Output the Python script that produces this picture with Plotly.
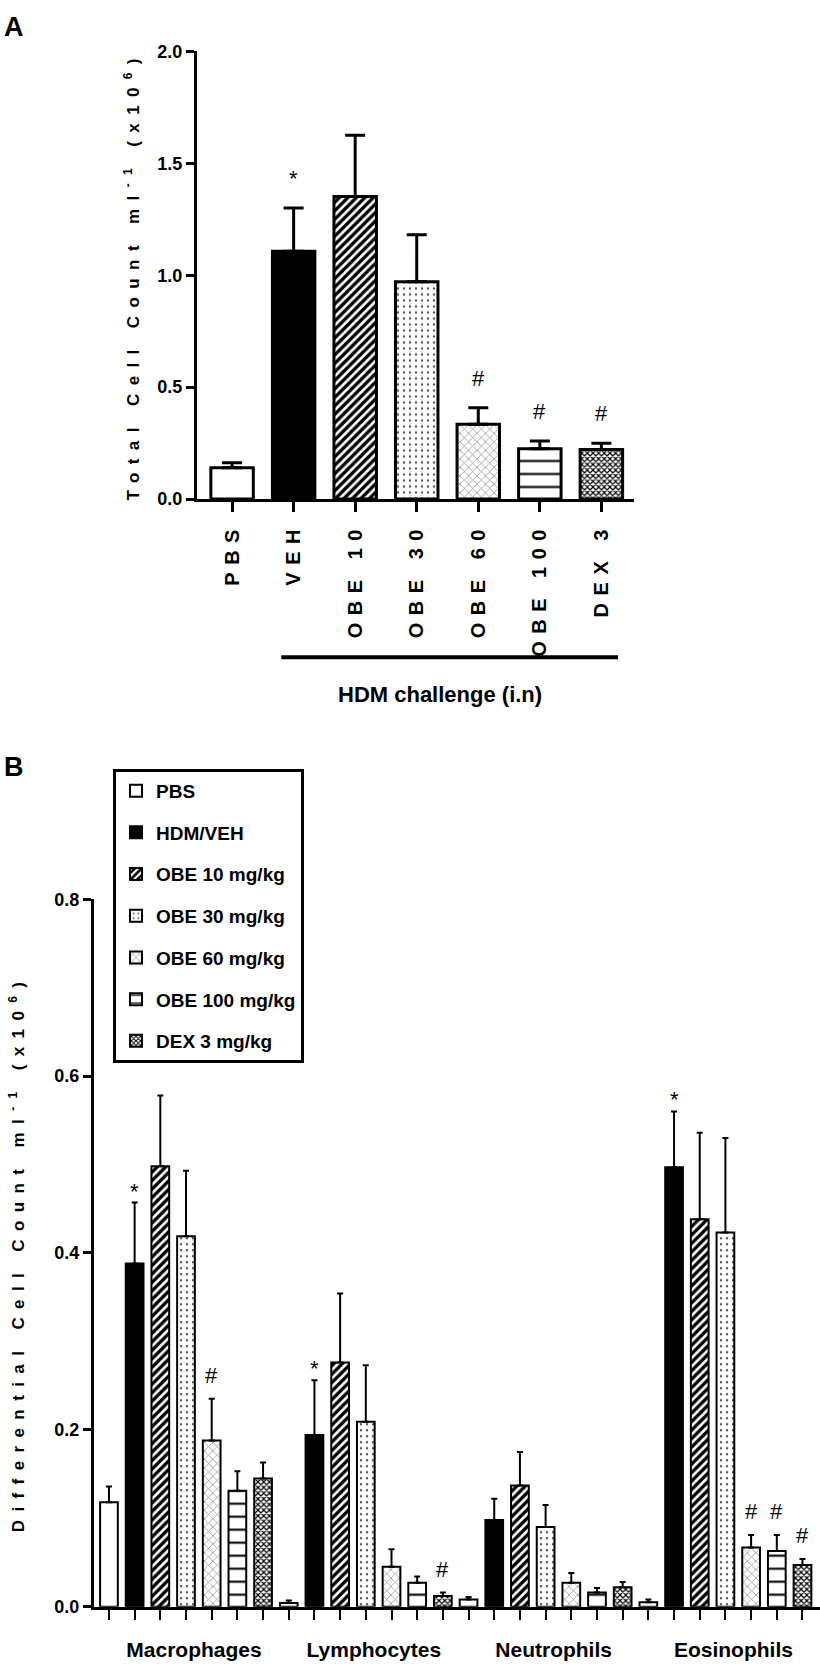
import plotly.graph_objects as go

# ---------------- Panel A data ----------------
groups_a = ["PBS", "VEH", "OBE 10", "OBE 30", "OBE 60", "OBE 100", "DEX 3"]
total_mean = [0.140, 1.107, 1.352, 0.971, 0.334, 0.225, 0.221]
total_sem = [0.022, 0.194, 0.274, 0.210, 0.074, 0.035, 0.029]
total_sig = ["", "*", "", "", "#", "#", "#"]

# ---------------- Panel B data ----------------
cell_types = ["Macrophages", "Lymphocytes", "Neutrophils", "Eosinophils"]
treatments = ["PBS", "HDM/VEH", "OBE 10 mg/kg", "OBE 30 mg/kg",
              "OBE 60 mg/kg", "OBE 100 mg/kg", "DEX 3 mg/kg"]

pbs_mean = [0.118, 0.004, 0.008, 0.005]
pbs_sem = [0.018, 0.003, 0.003, 0.003]
veh_mean = [0.388, 0.194, 0.098, 0.497]
veh_sem = [0.069, 0.062, 0.024, 0.063]
obe10_mean = [0.498, 0.276, 0.137, 0.438]
obe10_sem = [0.080, 0.078, 0.038, 0.098]
obe30_mean = [0.419, 0.209, 0.090, 0.423]
obe30_sem = [0.074, 0.064, 0.025, 0.107]
obe60_mean = [0.188, 0.045, 0.027, 0.067]
obe60_sem = [0.047, 0.020, 0.011, 0.014]
obe100_mean = [0.131, 0.027, 0.016, 0.063]
obe100_sem = [0.022, 0.007, 0.005, 0.018]
dex_mean = [0.145, 0.012, 0.022, 0.047]
dex_sem = [0.018, 0.004, 0.006, 0.007]

veh_sig = ["*", "*", "", "*"]
obe60_sig = ["#", "", "", "#"]
obe100_sig = ["", "", "", "#"]
dex_sig = ["", "#", "", "#"]
none_sig = ["", "", "", ""]

diff_means = [pbs_mean, veh_mean, obe10_mean, obe30_mean, obe60_mean, obe100_mean, dex_mean]
diff_sems = [pbs_sem, veh_sem, obe10_sem, obe30_sem, obe60_sem, obe100_sem, dex_sem]
diff_sigs = [none_sig, veh_sig, none_sig, none_sig, obe60_sig, obe100_sig, dex_sig]

# ---------------- styles ----------------
FONT = "Liberation Sans, Arial, Helvetica, sans-serif"
styles = [
    dict(bg="white", shape="", fg="black", size=8, sol=0.3),
    dict(bg="black", shape="", fg="black", size=8, sol=0.3),
    dict(bg="white", shape="/", fg="black", size=6, sol=0.55),
    dict(bg="white", shape=".", fg="#555555", size=6, sol=0.12),
    dict(bg="white", shape="x", fg="#9a9a9a", size=6, sol=0.25),
    dict(bg="white", shape="-", fg="black", size=13, sol=0.16),
    dict(bg="white", shape="x", fg="black", size=4, sol=0.5),
]

W, H = 820, 1670


def px_x(v):
    return v / W


def px_y(v):
    return 1 - v / H


def bar_marker(s, lw):
    m = dict(color=s["bg"], line=dict(color="black", width=lw))
    if s["shape"]:
        m["pattern"] = dict(shape=s["shape"], fgcolor=s["fg"], bgcolor=s["bg"],
                            size=s["size"], solidity=s["sol"], fillmode="replace")
    return m


fig = go.Figure()

# Panel A: one bar per group, all sharing the same slot offset
for i, g in enumerate(groups_a):
    fig.add_trace(go.Bar(
        x=[g], y=[total_mean[i]], offsetgroup="A",
        marker=bar_marker(styles[i], 3),
        error_y=dict(type="data", array=[total_sem[i]], arrayminus=[0],
                     symmetric=False, color="black", thickness=3, width=10),
        showlegend=False, xaxis="x", yaxis="y", name=g,
    ))

# Panel B
cat_pos = list(range(len(cell_types)))
for j, name in enumerate(treatments):
    fig.add_trace(go.Bar(
        x=cat_pos, y=diff_means[j], name=name, legendgroup=name,
        marker=bar_marker(styles[j], 2),
        error_y=dict(type="data", array=diff_sems[j], arrayminus=[0] * len(cell_types),
                     symmetric=False, color="black", thickness=2, width=3),
        xaxis="x2", yaxis="y2",
    ))

annotations = []
for i, m in enumerate(total_sig):
    if m:
        annotations.append(dict(
            x=groups_a[i], y=total_mean[i] + total_sem[i], xref="x", yref="y",
            text=m, showarrow=False, yanchor="bottom", yshift=15,
            font=dict(family=FONT, size=22, color="black")))

n_tr = len(treatments)
for j in range(n_tr):
    for g in range(len(cell_types)):
        m = diff_sigs[j][g]
        if m:
            annotations.append(dict(
                x=g + (j - (n_tr - 1) / 2) / n_tr,
                y=diff_means[j][g] + diff_sems[j][g], xref="x2", yref="y2",
                text=m, showarrow=False, yanchor="bottom",
                yshift=(9 if m == "#" else -3),
                font=dict(family=FONT, size=22, color="black")))

annotations += [
    dict(x=0.002, y=1.0, xref="paper", yref="paper", xanchor="left", yanchor="top",
         text="A", showarrow=False,
         font=dict(family=FONT, size=27, color="black", weight="bold")),
    dict(x=0.002, y=px_y(749), xref="paper", yref="paper", xanchor="left", yanchor="top",
         text="B", showarrow=False,
         font=dict(family=FONT, size=27, color="black", weight="bold")),
    dict(x=px_x(440), y=px_y(693), xref="paper", yref="paper", xanchor="center",
         yanchor="middle", text="HDM challenge (i.n)", showarrow=False,
         font=dict(family=FONT, size=22, color="black", weight="bold")),
]

axis_common = dict(showline=True, linecolor="black", showgrid=False, zeroline=False,
                   ticks="outside", tickcolor="black", mirror=False)

fig.update_layout(
    width=W, height=H,
    margin=dict(l=0, r=0, t=0, b=0),
    paper_bgcolor="white", plot_bgcolor="white",
    font=dict(family=FONT, color="black"),
    barmode="group", bargap=0.0, bargroupgap=0.31,
    xaxis=dict(axis_common, domain=[px_x(197), px_x(634)], anchor="y",
               type="category", range=[-0.57, 6.53], linewidth=3,
               ticklen=10, tickwidth=3, tickangle=-90, ticklabelstandoff=2,
               tickfont=dict(family=FONT, size=20, weight="bold")),
    yaxis=dict(axis_common, domain=[px_y(495), px_y(42)], anchor="x",
               range=[0, 2], tickvals=[0, 0.5, 1.0, 1.5, 2.0], tickformat=".1f",
               linewidth=3, ticklen=8, tickwidth=3,
               tickfont=dict(family=FONT, size=18, weight="bold"),
               title=dict(text="Total Cell Count ml<sup>-1</sup> (x10<sup>6</sup>)",
                          font=dict(family=FONT, size=17, weight="bold"), standoff=14)),
    xaxis2=dict(axis_common, domain=[px_x(94), 1.0], anchor="y2",
                range=[-0.5117, 3.526], tickvals=cat_pos, ticktext=cell_types,
                linewidth=3, ticklen=10, tickwidth=2, ticklabelstandoff=12,
                ticklabelshift=8,
                minor=dict(ticks="outside", tick0=-3 / 7, dtick=1 / 7, ticklen=10,
                           tickwidth=2, tickcolor="black"),
                tickfont=dict(family=FONT, size=21, weight="bold")),
    yaxis2=dict(axis_common, domain=[px_y(1616), px_y(900)], anchor="x2",
                range=[0, 0.8], dtick=0.2, tickformat=".1f",
                linewidth=3, ticklen=8, tickwidth=3,
                tickfont=dict(family=FONT, size=18, weight="bold"),
                title=dict(text="Differential Cell Count ml<sup>-1</sup> (x10<sup>6</sup>)",
                           font=dict(family=FONT, size=17, weight="bold"), standoff=26)),
    legend=dict(x=px_x(113), y=px_y(768), xanchor="left", yanchor="top",
                bordercolor="black", borderwidth=3, bgcolor="white",
                traceorder="grouped", tracegroupgap=14,
                font=dict(family=FONT, size=19, weight="bold")),
    shapes=[dict(type="line", xref="x", yref="paper", x0=0.8, x1=6.27,
                 y0=px_y(655), y1=px_y(655), line=dict(color="black", width=4))],
    annotations=annotations,
)

css = (".g-ytitle text{letter-spacing:8.4px}"
       ".g-y2title text{letter-spacing:8.4px}"
       ".xtick text{letter-spacing:7.5px}")
post = ("var s=document.createElement('style');s.innerHTML='" + css +
        "';document.head.appendChild(s);document.body.style.margin='0';")

fig.write_html("out.html", post_script=post, config={"displayModeBar": False})
